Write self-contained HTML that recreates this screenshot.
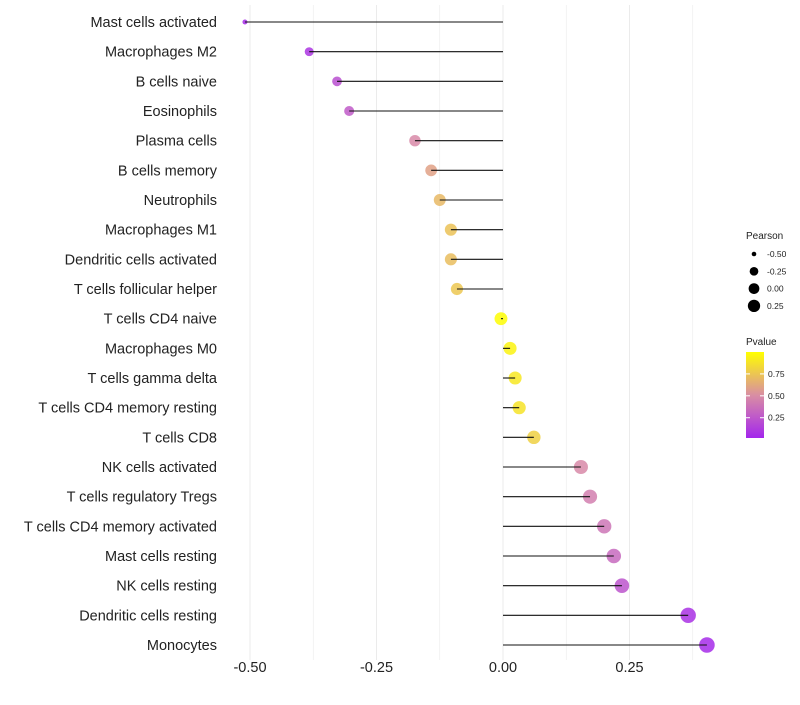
<!DOCTYPE html>
<html><head><meta charset="utf-8"><style>
body{margin:0;background:#fff;font-family:"Liberation Sans",sans-serif;}
</style></head><body>
<svg id="chart" width="800" height="700" xmlns="http://www.w3.org/2000/svg" font-family="Liberation Sans, sans-serif">
<g id="grid"></g>
<g id="marks"></g>
<g id="ylabels"></g>
<g id="xlabels"></g>
<g id="legend"></g>
</svg>
<script>
const categories=["Mast cells activated","Macrophages M2","B cells naive","Eosinophils","Plasma cells","B cells memory","Neutrophils","Macrophages M1","Dendritic cells activated","T cells follicular helper","T cells CD4 naive","Macrophages M0","T cells gamma delta","T cells CD4 memory resting","T cells CD8","NK cells activated","T cells regulatory  Tregs ","T cells CD4 memory activated","Mast cells resting","NK cells resting","Dendritic cells resting","Monocytes"];
const pearson=[-0.51,-0.383,-0.328,-0.304,-0.174,-0.142,-0.125,-0.103,-0.103,-0.091,-0.004,0.014,0.024,0.032,0.061,0.154,0.172,0.2,0.219,0.235,0.366,0.403];
const pvalue=[0.05,0.1,0.22,0.28,0.5,0.6,0.7,0.74,0.72,0.76,0.99,0.95,0.9,0.88,0.8,0.5,0.45,0.4,0.35,0.25,0.08,0.05];
const xTicks=[-0.5,-0.25,0,0.25];
const xTickLabels=["-0.50","-0.25","0.00","0.25"];
const sizeLegend=[-0.5,-0.25,0,0.25];
const colorTicks=[0.25,0.5,0.75];
const NS="http://www.w3.org/2000/svg";
const X=v=>503+v*506;
const Y=i=>22+i*29.667;
const pmin=Math.min(...pearson),pmax=Math.max(...pearson);
const R=v=>2+5.3*Math.sqrt(Math.max(0,Math.min(1,(v-pmin)/(pmax-pmin))));
function lerp(a,b,t){return a.map((x,i)=>Math.round(x+(b[i]-x)*t));}
function col(p){const s=[[160,32,240],[216,138,168],[255,255,0]];let c=p<0.5?lerp(s[0],s[1],p/0.5):lerp(s[1],s[2],(p-0.5)/0.5);return `rgb(${c.join(',')})`;}
function el(tag,attrs,parent,text){const e=document.createElementNS(NS,tag);for(const k in attrs)e.setAttribute(k,attrs[k]);if(text!==undefined)e.textContent=text;parent.appendChild(e);return e;}
const grid=document.getElementById('grid'),marks=document.getElementById('marks'),yl=document.getElementById('ylabels'),xl=document.getElementById('xlabels'),lg=document.getElementById('legend');
[-0.5,-0.375,-0.25,-0.125,0,0.125,0.25,0.375].forEach(v=>{const g=el('line',{x1:X(v),x2:X(v),y1:5,y2:660,stroke:'#ebebeb','stroke-width':v*8%2===0?1:0.6},grid);});
categories.forEach((c,i)=>{
 const v=pearson[i],y=Y(i);
 const pt=el('circle',{cx:X(v),cy:y,r:R(v)+0.5,fill:col(pvalue[i]),'fill-opacity':0.85},marks);
 
 
 const ln=el('line',{x1:X(0),x2:X(v),y1:y,y2:y,stroke:'#111','stroke-width':1.1},marks);
 
 
 const t=el('text',{x:217,y:y+5,'text-anchor':'end','font-size':14.5,fill:'#222'},yl,c);
 
 
});
xTicks.forEach((v,i)=>{const t=el('text',{x:X(v),y:672,'text-anchor':'middle','font-size':14.5,fill:'#222'},xl,xTickLabels[i]);});
let t=el('text',{x:746,y:239,'font-size':10,fill:'#222'},lg,'Pearson');
sizeLegend.forEach((v,i)=>{const y=254+i*17.3;const c=el('circle',{cx:754,cy:y,r:R(v)*0.9,fill:'#000'},lg);const tt=el('text',{x:767,y:y+3,'font-size':8.5,fill:'#222'},lg,v.toFixed(2));});
t=el('text',{x:746,y:345,'font-size':10,fill:'#222'},lg,'Pvalue');
const defs=el('defs',{},lg);const gr=el('linearGradient',{id:'pg',x1:0,y1:1,x2:0,y2:0},defs);
[0,0.25,0.5,0.75,1].forEach(s=>el('stop',{offset:s,'stop-color':col(0.03+s*0.97)},gr));
const bar=el('rect',{x:746,y:352,width:18,height:86,fill:'url(#pg)'},lg);
const PY=p=>437-(p-0.03)/0.97*85;
colorTicks.forEach(p=>{el('line',{x1:746,x2:750,y1:PY(p),y2:PY(p),stroke:'#fff'},lg);el('line',{x1:760,x2:764,y1:PY(p),y2:PY(p),stroke:'#fff'},lg);const tt=el('text',{x:768,y:PY(p)+3,'font-size':8.5,fill:'#222'},lg,p.toFixed(2));});
</script>
</body></html>
